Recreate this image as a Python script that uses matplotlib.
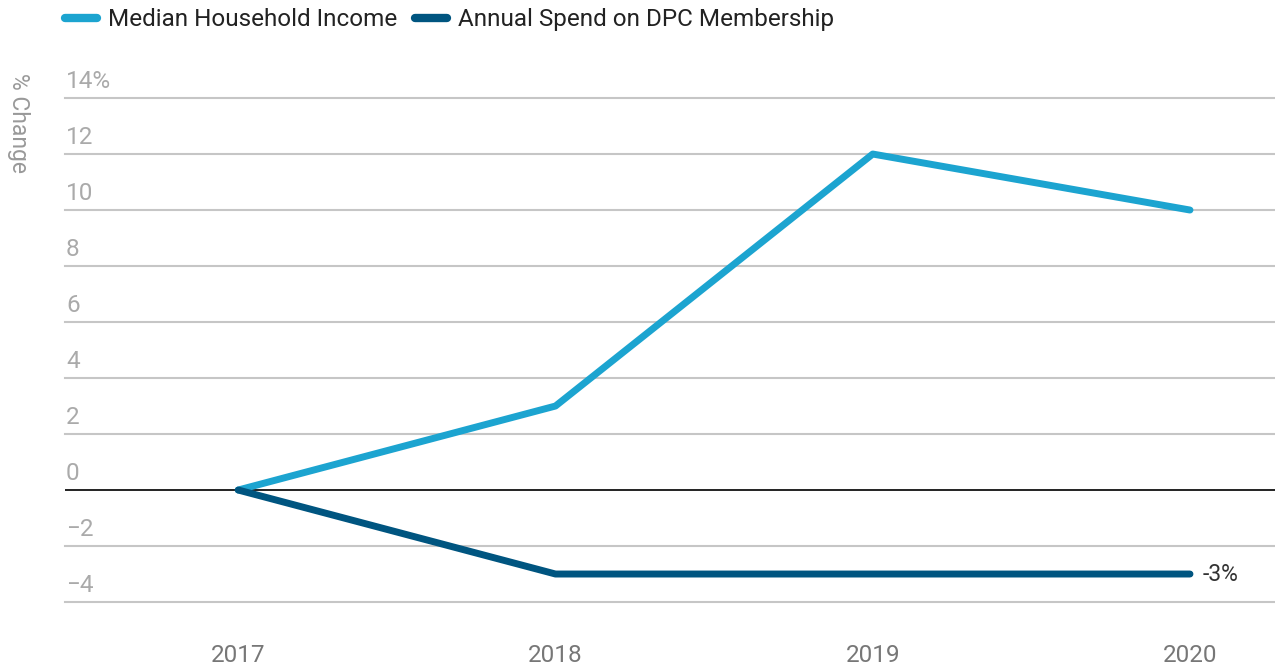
import matplotlib.pyplot as plt
from matplotlib.transforms import ScaledTranslation

plt.rcParams['font.family'] = ['Roboto', 'DejaVu Sans']

years = [2017, 2018, 2019, 2020]
median_income = [0, 3, 12, 10]
dpc_spend = [0, -3, -3, -3]
yticks = [-4, -2, 0, 2, 4, 6, 8, 10, 12, 14]
ytick_labels = ['\u22124', '\u22122', '0', '2', '4', '6', '8', '10', '12', '14%']

light_blue = '#1ca4d0'
dark_blue = '#005580'

fig = plt.figure(figsize=(12.75, 6.71), dpi=100)
ax = fig.add_axes([0.051, 0.1028, 0.949, 0.7511])

ax.plot(years, median_income, color=light_blue, lw=5, solid_capstyle='round',
        solid_joinstyle='round', label='Median Household Income', zorder=3)
ax.plot(years, dpc_spend, color=dark_blue, lw=5, solid_capstyle='round',
        solid_joinstyle='round', label='Annual Spend on DPC Membership', zorder=3)
ax.axhline(0, color='#111111', lw=1.3, zorder=2)

ax.set_xlim(2016.454, 2020.268)
ax.set_ylim(-4, 14)
ax.set_xticks(years)
ax.set_xticklabels([str(y) for y in years])
ax.set_yticks(yticks)
ax.set_yticklabels(ytick_labels)
for y in yticks:
    if y != 0:
        ax.axhline(y, color='#c6c6c6', lw=1.5, zorder=1, clip_on=False)

for s in ax.spines.values():
    s.set_visible(False)
ax.tick_params(axis='x', length=0, pad=30, labelsize=17.5, labelcolor='#777777')
ax.tick_params(axis='y', length=0, pad=0, labelsize=17.5, labelcolor='#aaaaaa')

offset = ScaledTranslation(0.01, 0.1, fig.dpi_scale_trans)
for lbl in ax.get_yticklabels():
    lbl.set_horizontalalignment('left')
    lbl.set_verticalalignment('baseline')
    lbl.set_transform(lbl.get_transform() + offset)

ax.annotate('-3%', xy=(years[-1], dpc_spend[-1]), xytext=(9, 0),
            textcoords='offset points', ha='left', va='center',
            fontsize=16.5, color='#333333')

fig.text(18 / 1275, 1 - 123 / 671, '% Change', rotation=270, ha='center',
         va='center', fontsize=16.5, color='#999999')

leg = fig.legend(loc='upper left', bbox_to_anchor=(0.051, 0.988), ncol=2,
                 frameon=False, fontsize=17.5, handlelength=1.3,
                 handletextpad=0.45, columnspacing=0.75, borderpad=0,
                 borderaxespad=0)
for h in leg.get_lines():
    h.set_linewidth(6)
    h.set_solid_capstyle('round')
for t in leg.get_texts():
    t.set_color('#222222')

fig.savefig('out.png', dpi=100)
